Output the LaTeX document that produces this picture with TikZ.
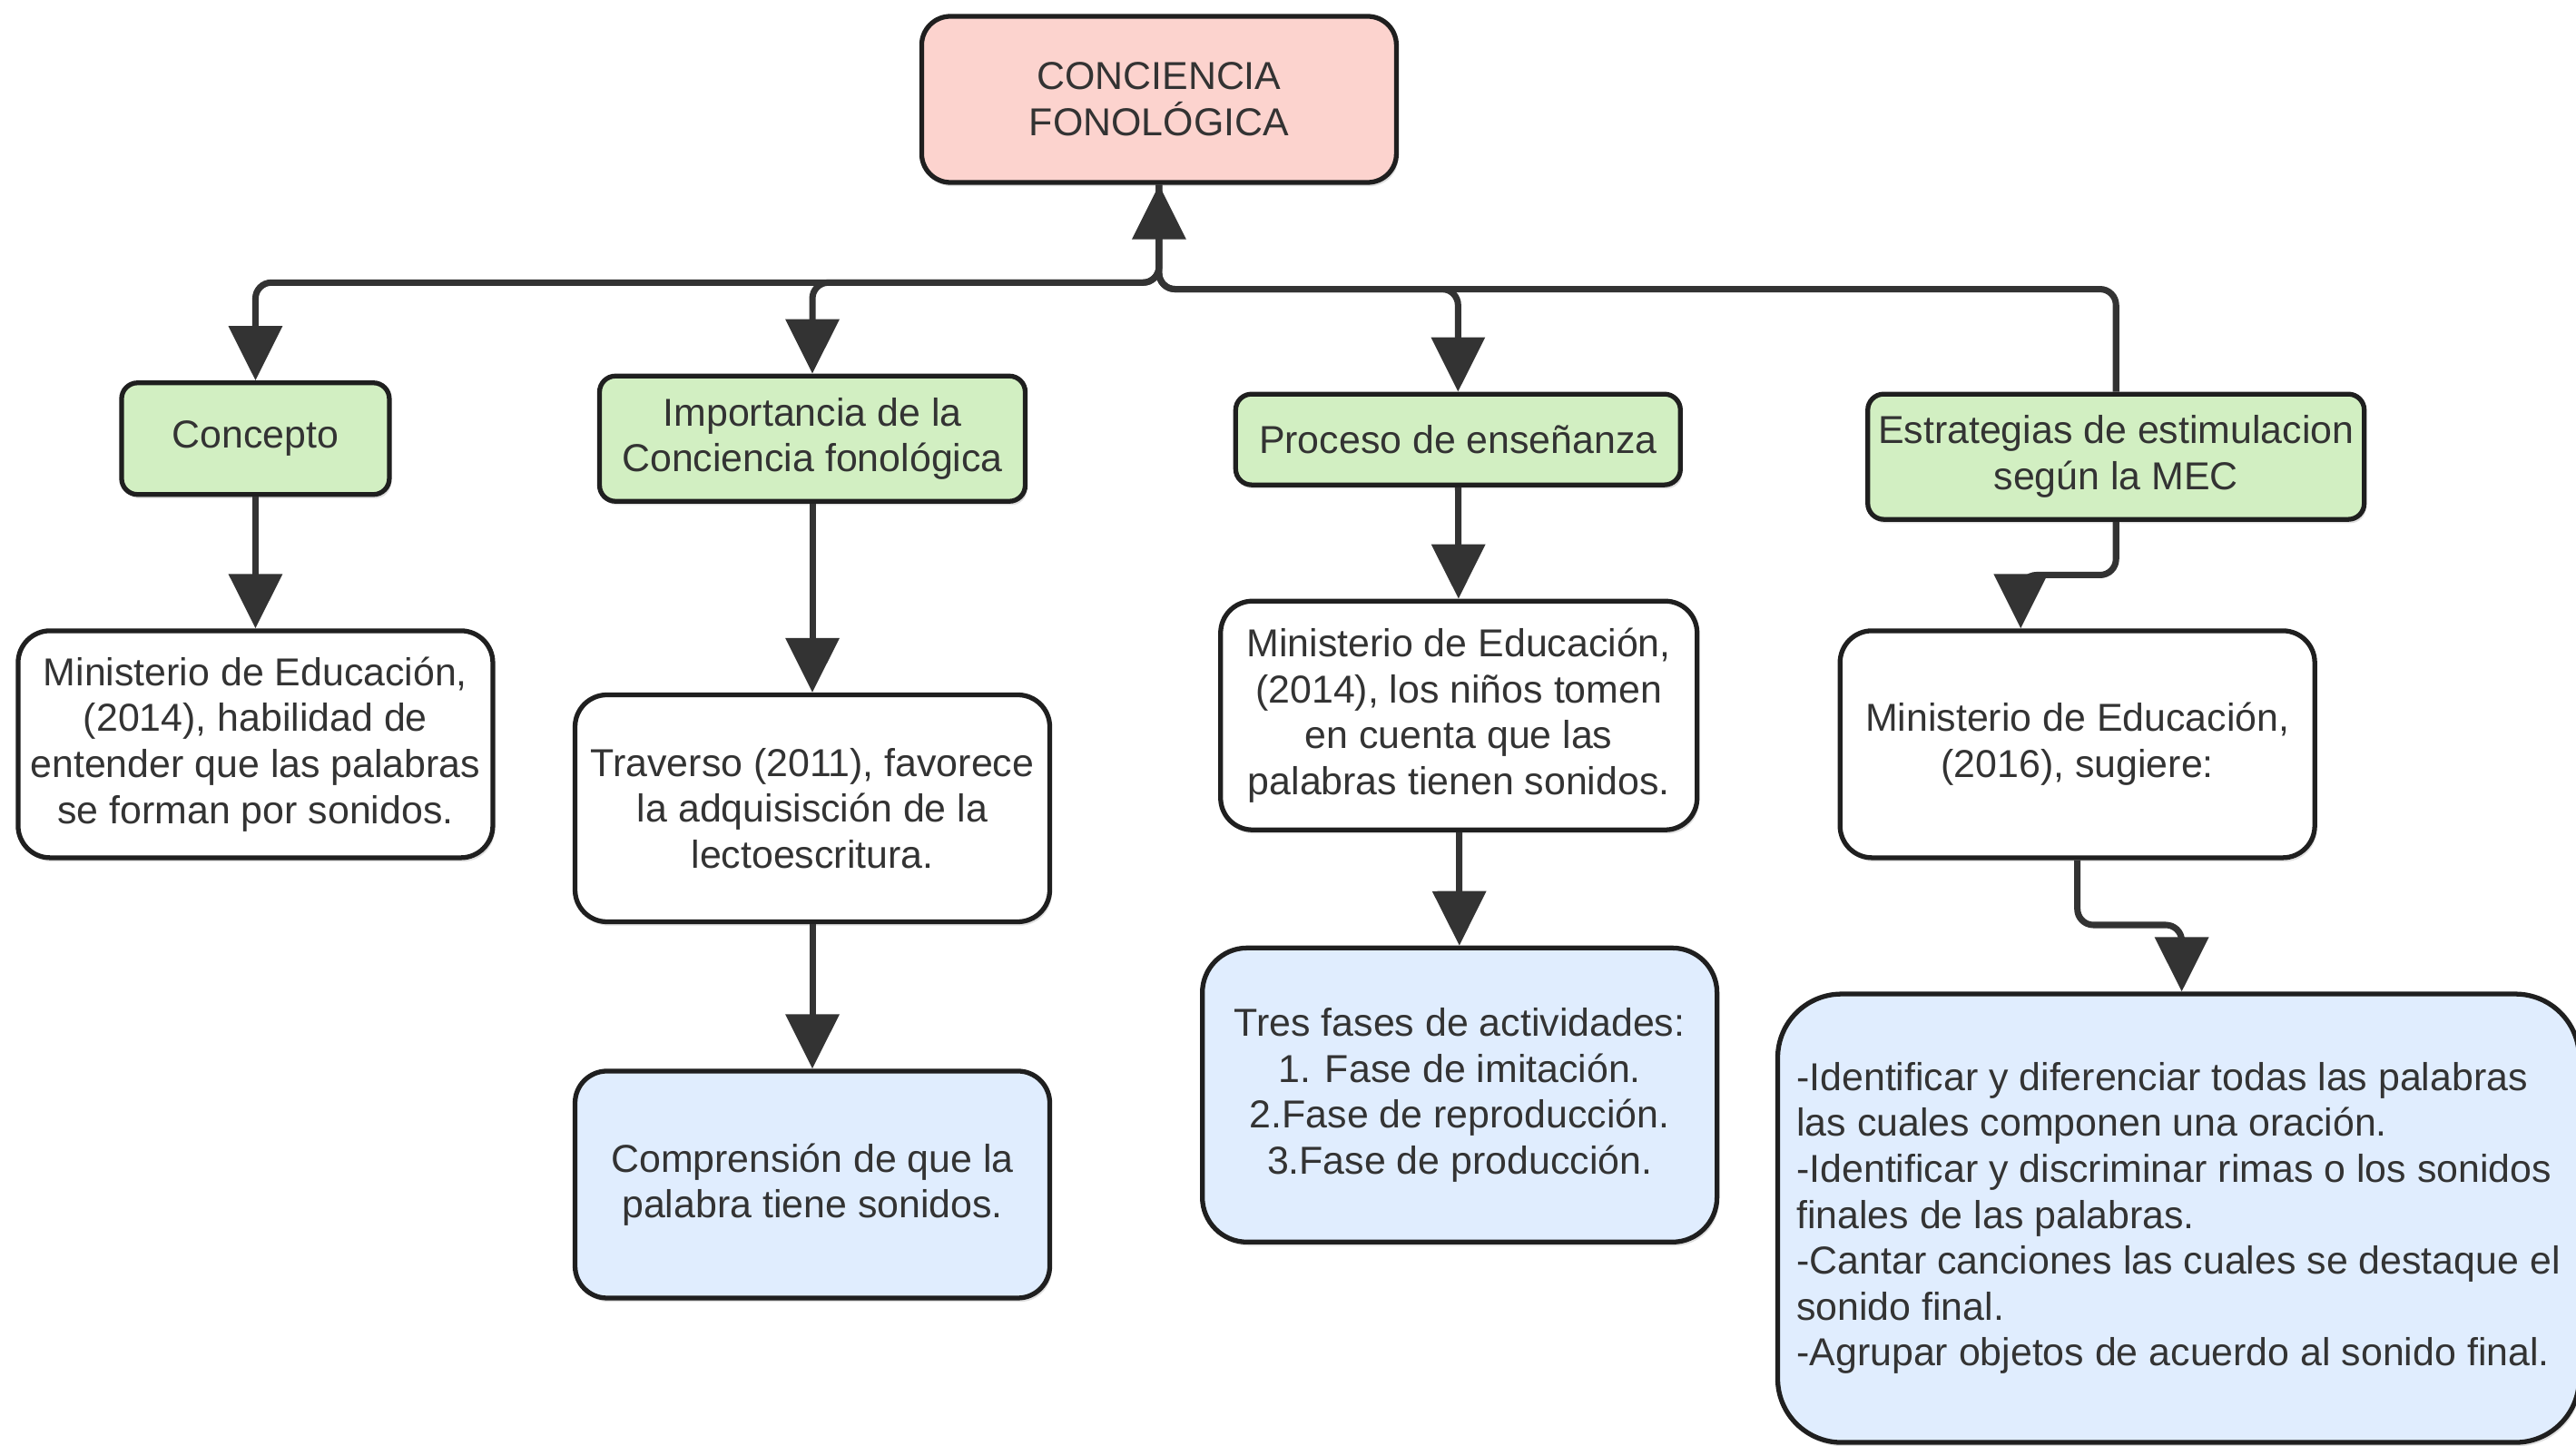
\documentclass[tikz,border=0pt]{standalone}
\usepackage{fontspec}
\setmainfont{Liberation Sans}
\usetikzlibrary{arrows.meta, shadows}
\definecolor{rootpink}{HTML}{FCD3CE}
\definecolor{topicgreen}{HTML}{D2EFC2}
\definecolor{detailblue}{HTML}{E0EDFE}
\definecolor{edgegray}{HTML}{333333}
\definecolor{inkgray}{HTML}{333333}
\tikzset{
  box/.style={draw=black!88, line width=1.5pt, align=center, inner sep=2pt,
    text=inkgray, font=\fontsize{12.2}{14.4}\selectfont,
    drop shadow={shadow xshift=0.6pt, shadow yshift=-1.2pt, opacity=0.25}},
  boxsize/.style 2 args={minimum width=#1, minimum height=#2},
  rootbox/.style={box, fill=rootpink, rounded corners=9pt},
  topicbox/.style={box, fill=topicgreen, rounded corners=5pt},
  notebox/.style={box, fill=white, rounded corners=10pt},
  detailbox/.style={box, fill=detailblue, rounded corners=#1},
  link/.style={draw=edgegray, line width=2pt, rounded corners=5pt,
    -{Triangle[width=0.58cm, length=0.6cm]}}
}

\begin{document}
\begin{tikzpicture}[x=0.181mm, y=-0.181mm]
      \useasboundingbox (0,0) rectangle (1568,880);

      % Root
      \node[rootbox, boxsize={5.23cm}{1.83cm}] (root) at (705.5,60.5) {CONCIENCIA\\FONOLÓGICA};

      % Topics
      \node[topicbox, boxsize={2.95cm}{1.23cm}] (concepto) at (155.5,267) {Concepto};
      \node[topicbox, boxsize={4.69cm}{1.38cm}] (importancia) at (494.5,267) {Importancia de la\\Conciencia fonológica};
      \node[topicbox, boxsize={4.90cm}{1.00cm}] (proceso) at (887.5,267.5) {Proceso de enseñanza};
      \node[topicbox, boxsize={5.47cm}{1.38cm}] (estrategias) at (1288,278) {Estrategias de estimulacion\\según la MEC};

      % Notes
      \node[notebox, boxsize={5.23cm}{2.50cm}] (minuno) at (155.5,453) {Ministerio de Educación,\\(2014), habilidad de\\entender que las palabras\\se forman por sonidos.};
      \node[notebox, boxsize={5.23cm}{2.50cm}] (traverso) at (494.5,492) {Traverso (2011), favorece\\la adquisisción de la\\lectoescritura.};
      \node[notebox, boxsize={5.25cm}{2.52cm}] (mindos) at (888,435.5) {Ministerio de Educación,\\(2014), los niños tomen\\en cuenta que las\\palabras tienen sonidos.};
      \node[notebox, boxsize={5.23cm}{2.50cm}] (mintres) at (1264.5,453) {Ministerio de Educación,\\(2016), sugiere:};

      % Details
      \node[detailbox=10pt, boxsize={5.23cm}{2.50cm}] (comprension) at (494.5,721) {Comprensión de que la\\palabra tiene sonidos.};
      \node[detailbox=14pt, boxsize={5.67cm}{3.24cm}] (fases) at (888.5,666.5) {Tres fases de actividades:\\1. Fase de imitación.\\2.Fase de reproducción.\\3.Fase de producción.};
      \node[detailbox=20pt, boxsize={8.83cm}{4.94cm}, align=left] (acciones) at (1326,741.5) {-Identificar y diferenciar todas las palabras\\las cuales componen una oración.\\-Identificar y discriminar rimas o los sonidos\\finales de las palabras.\\-Cantar canciones las cuales se destaque el\\sonido final.\\-Agrupar objetos de acuerdo al sonido final.};

      % Bus below the root
      \coordinate (hubl) at (705.5,172);
      \coordinate (hubr) at (705.5,176);
      \coordinate (bendu) at (1230,350);
      \coordinate (bendd) at (1328,563);

      \draw[link] (root.south) -- (hubl) -| (concepto.north);
      \draw[link] (root.south) -- (hubl) -| (importancia.north);
      \draw[link] (root.south) -- (hubr) -| (proceso.north);
      \draw[link] (estrategias.north) |- (hubr) -- (root.south);

      % Columns
      \draw[link] (concepto) -- (minuno);
      \draw[link] (importancia) -- (traverso);
      \draw[link] (traverso) -- (comprension);
      \draw[link] (proceso) -- (mindos);
      \draw[link] (mindos) -- (fases);
      \draw[link] (estrategias.south) |- (bendu) -- (mintres.north -| bendu);
      \draw[link] (mintres.south) |- (bendd) -- (acciones.north -| bendd);
    \end{tikzpicture}
\end{document}
